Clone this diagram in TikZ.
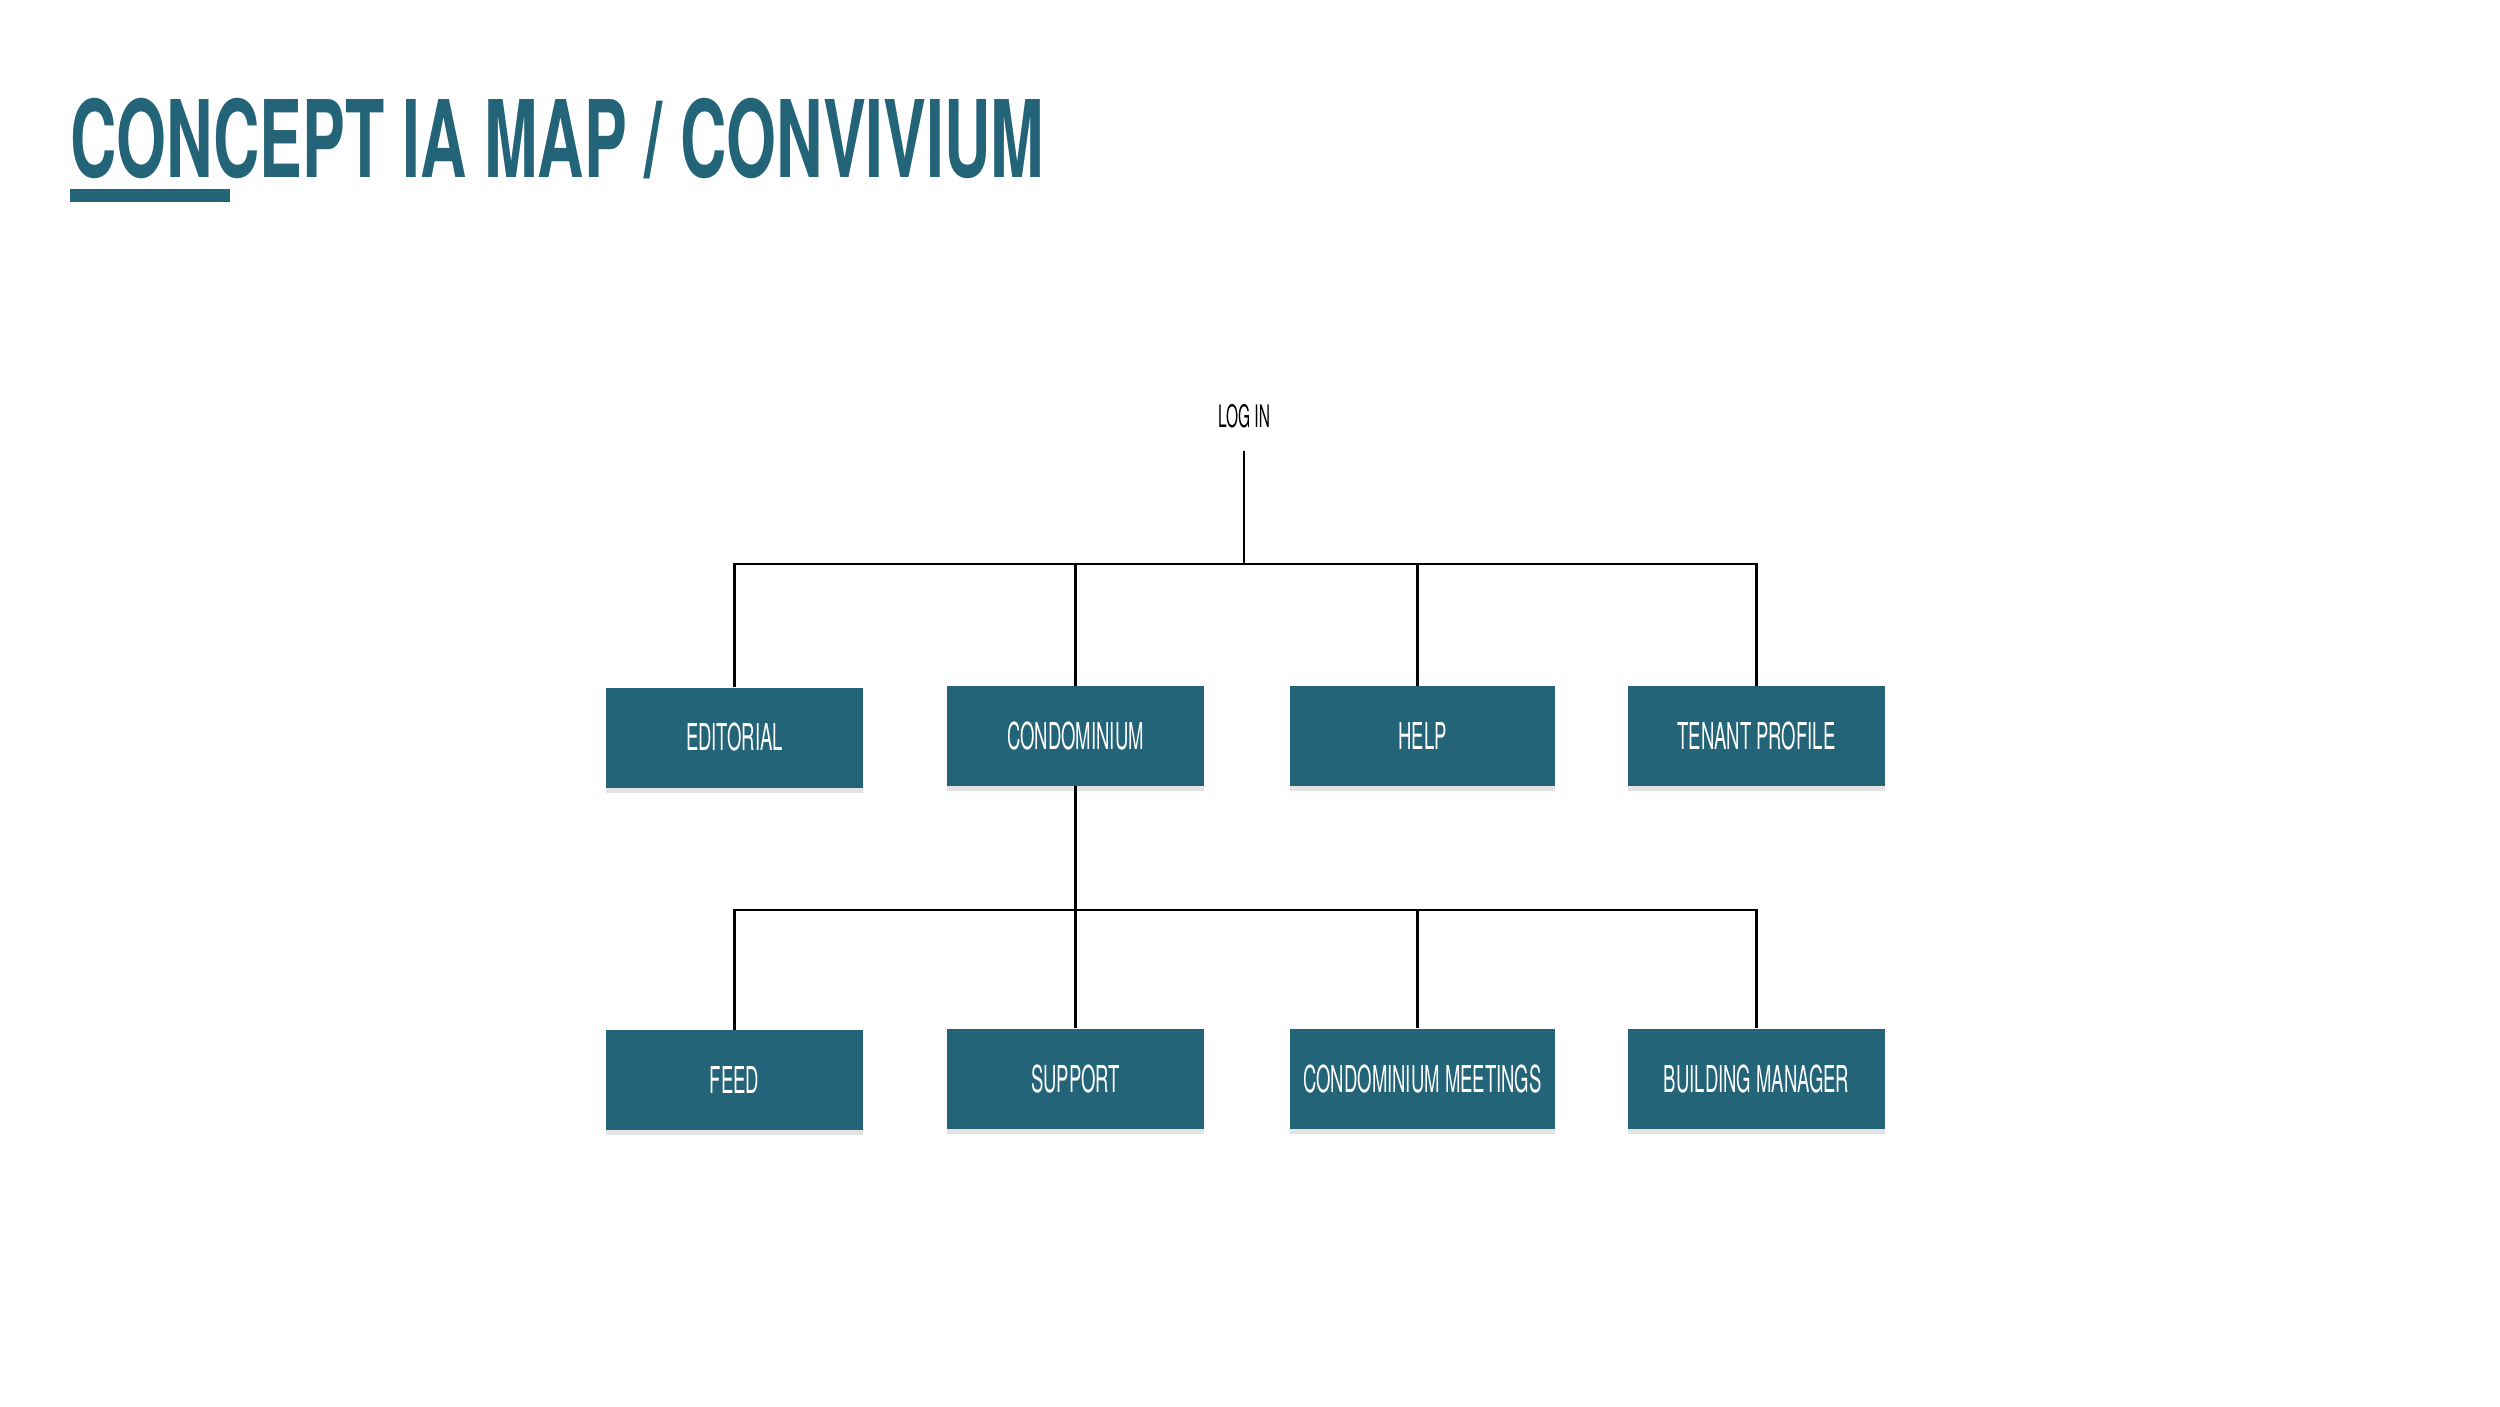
\documentclass[tikz,border=0pt]{standalone}
\usepackage{fontspec}
\usepackage{graphicx}
\setmainfont{TeX Gyre Heros}
\newfontfamily\condfont[FakeStretch=0.5]{TeX Gyre Heros}
\usetikzlibrary{shadows}
\definecolor{teal}{RGB}{35,100,120}
\tikzset{
  box/.style={fill=teal, minimum width=257pt, minimum height=100pt, inner sep=0pt,
    text=white, font=\condfont\fontsize{37}{37}\selectfont,
    drop shadow={shadow xshift=0pt, shadow yshift=-5pt, opacity=0.22}},
  conn/.style={line width=2.5pt, black}
}
\begin{document}
\begin{tikzpicture}[x=1pt,y=-1pt]
\useasboundingbox (0,0) rectangle (2500,1406);
% title
\node[anchor=base west, inner sep=0pt, text=teal] (title) at (70,177)
  {\resizebox{974pt}{\height}{\fontsize{107}{110}\selectfont\bfseries CONCEPT IA MAP / CONVIVIUM}};
\fill[teal] (70,189) rectangle (230,202);
% login
\node[font=\condfont\fontsize{31}{31}\selectfont, inner sep=0pt] (login) at (1244,416) {LOG IN};
\coordinate (lstart) at (1244,451);
\coordinate (busA) at (1244,564);
\coordinate (busB) at (1244,910);
% row 1
\node[box] (editorial) at (734.5,737.5) {EDITORIAL};
\node[box] (condo) at (1075.5,736) {CONDOMINIUM};
\node[box, minimum width=265pt] (help) at (1422.5,736) {HELP};
\node[box] (tenant) at (1756.5,736) {TENANT PROFILE};
% row 2
\node[box] (feed) at (734.5,1080) {FEED};
\node[box] (support) at (1075.5,1078.5) {SUPPORT};
\node[box, minimum width=265pt] (meetings) at (1422.5,1078.5) {CONDOMINIUM MEETINGS};
\node[box] (building) at (1756.5,1078.5) {BUILDING MANAGER};
% connectors level 1
\draw[conn] (lstart) -- (busA);
\draw[conn] (editorial.north) |- (tenant.north |- busA) -- (tenant.north);
\draw[conn] (condo.north) -- (condo.north |- busA);
\draw[conn] ([xshift=-5pt]help.north) -- ([xshift=-5pt]help.north |- busA);
% connectors level 2
\draw[conn] (condo.south) -- (condo.south |- busB);
\draw[conn] (feed.north) |- (building.north |- busB) -- (building.north);
\draw[conn] (support.north) -- (support.north |- busB);
\draw[conn] ([xshift=-5pt]meetings.north) -- ([xshift=-5pt]meetings.north |- busB);
\end{tikzpicture}
\end{document}
